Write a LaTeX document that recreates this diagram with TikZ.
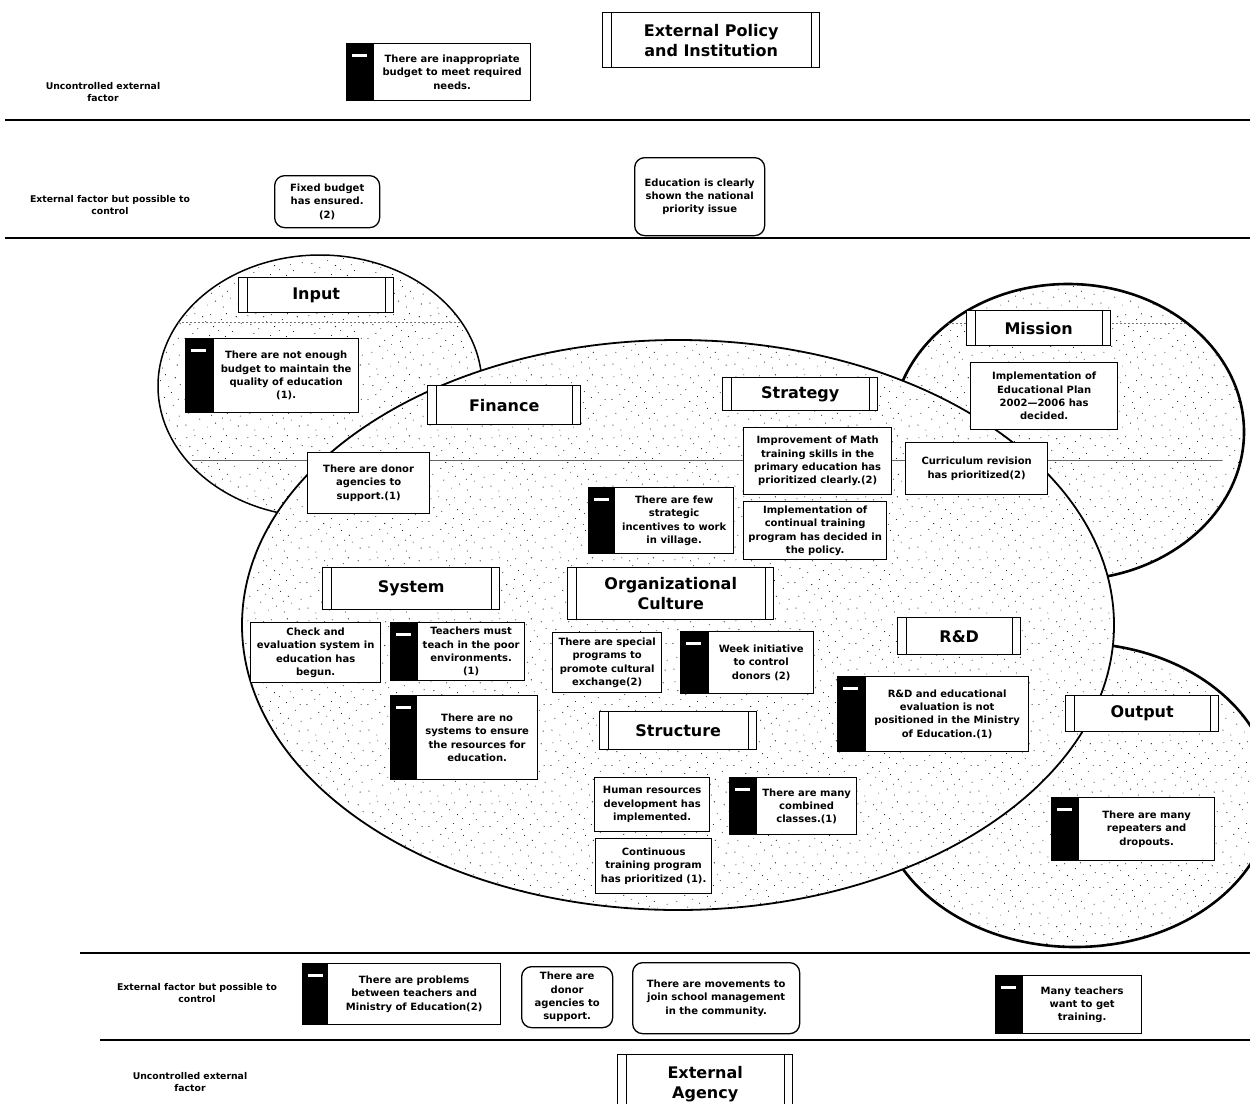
\documentclass[tikz,border=0pt]{standalone}
\usepackage{fontspec}
\newfontfamily\djv{DejaVu Sans}
\usetikzlibrary{patterns.meta}

\tikzdeclarepattern{
  name=speckle,
  type=uncolored,
  bounding box={(0pt,0pt) and (61pt,61pt)},
  tile size={(61pt,61pt)},
  code={
    \foreach \px/\py/\pr in {3/7/0.6,11/2/0.45,17/13/0.55,25/5/0.4,33/9/0.6,41/3/0.5,48/12/0.45,56/6/0.6,
      6/19/0.5,14/25/0.6,22/21/0.4,29/17/0.55,37/24/0.5,45/19/0.6,52/27/0.45,58/16/0.5,
      2/33/0.55,10/38/0.45,19/31/0.6,27/36/0.5,35/30/0.4,43/35/0.6,50/40/0.5,57/33/0.45,
      7/47/0.6,15/43/0.5,23/50/0.45,31/45/0.6,39/52/0.5,47/46/0.4,54/55/0.6,4/56/0.5,
      12/58/0.45,20/55/0.55,28/57/0.5,36/41/0.45,44/58/0.6,59/48/0.5,26/27/0.45,40/14/0.5}
      {\fill (\px pt,\py pt) circle[radius=\pr pt];}
  }
}

\tikzset{
  sepline/.style={line width=1.6pt},
  lbl/.style={font=\djv\bfseries\fontsize{9.3}{12}\selectfont, align=center},
  pbox/.style={draw, line width=1.3pt, fill=white, anchor=north west, align=center,
    inner sep=1pt, font=\djv\bfseries\fontsize{10}{13.3}\selectfont},
  rbox/.style={pbox, rounded corners=10pt},
  ibar/.style={draw, line width=1.3pt, fill=black, anchor=north west, inner sep=0pt,
    path picture={\fill[white] ([xshift=5pt,yshift=-10pt]path picture bounding box.north west) rectangle ++(15pt,-3.5pt);}},
  tbox/.style={draw, line width=1.4pt, fill=white, anchor=north west, align=center, inner sep=0pt,
    font=\djv\bfseries\fontsize{16}{20}\selectfont,
    path picture={
      \draw[line width=1pt] ([xshift=8.5pt]path picture bounding box.north west) -- ([xshift=8.5pt]path picture bounding box.south west);
      \draw[line width=1pt] ([xshift=-8.5pt]path picture bounding box.north east) -- ([xshift=-8.5pt]path picture bounding box.south east);}},
  blob/.style={pattern=speckle, pattern color=black, preaction={fill=white}},
  faint/.style={black!55, line width=0.7pt, dash pattern=on 2pt off 2pt},
}

% name, style, x1, y1, x2, y2, text
\newcommand\PBox[7]{\node[#2, minimum width={#5-#3}, minimum height={#6-#4}] (#1) at (#3,#4) {#7};}
% name, x1, y1, x2, y2, bar right x, text
\newcommand\IBox[7]{%
  \node[ibar, minimum width={#6-#2}, minimum height={#5-#3}] (#1bar) at (#2,#3) {};
  \node[pbox, minimum width={#4-#6}, minimum height={#5-#3}] (#1) at (#6,#3) {#7};}

\begin{document}
\begin{tikzpicture}[x=1pt,y=-1pt]
\useasboundingbox (0,0) rectangle (1250,1103);

% separator lines
\draw[sepline] (5,120) -- (1250,120);
\draw[sepline] (5,238) -- (1250,238);
\draw[sepline] (80,953) -- (1250,953);
\draw[sepline] (100,1040) -- (1250,1040);

% side labels
\node[lbl] (lab1) at (103,92) {Uncontrolled external\\factor};
\node[lbl] (lab2) at (110,205) {External factor but possible to\\control};
\node[lbl] (lab3) at (197,993) {External factor but possible to\\control};
\node[lbl] (lab4) at (190,1082) {Uncontrolled external\\factor};

% region ellipses
\draw[blob, line width=1.5pt] (320,386) ellipse [x radius=162pt, y radius=131pt];
\begin{scope}
  \clip (320,386) ellipse [x radius=162pt, y radius=131pt];
  \draw[faint] (150,322) -- (500,322);
\end{scope}
\draw[blob, line width=2.6pt] (1068,432) ellipse [x radius=176pt, y radius=148pt];
\begin{scope}
  \clip (1068,432) ellipse [x radius=176pt, y radius=148pt];
  \draw[faint] (880,323) -- (1250,323);
\end{scope}
\draw[blob, line width=2.6pt] (1075,795) ellipse [x radius=197pt, y radius=152pt];
\draw[blob, line width=1.8pt] (678,625) ellipse [x radius=436pt, y radius=285pt];
\draw[black!60, line width=0.8pt] (192,460) -- (1222,460);

% top band
\PBox{extpol}{tbox}{602}{12}{819}{67}{External Policy\\and Institution}
\IBox{inappr}{346}{43}{530}{100}{373}{There are inappropriate\\budget to meet required\\needs.}
\PBox{fixed}{rbox}{274}{175}{379}{227}{Fixed budget\\has ensured.\\(2)}
\PBox{edu}{rbox}{634}{157}{764}{235}{Education is clearly\\shown the national\\priority issue}

% input
\PBox{input}{tbox}{238}{277}{393}{312}{Input}
\IBox{notenough}{185}{338}{358}{412}{213}{There are not enough\\budget to maintain the\\quality of education\\(1).}
\PBox{finance}{tbox}{427}{385}{580}{424}{Finance}
\PBox{donor1}{pbox}{307}{452}{429}{513}{There are donor\\agencies to\\support.(1)}

% strategy
\PBox{strategy}{tbox}{722}{377}{877}{410}{Strategy}
\PBox{math}{pbox}{743}{427}{891}{494}{Improvement of Math\\training skills in the\\primary education has\\prioritized clearly.(2)}
\PBox{contin}{pbox}{743}{501}{886}{559}{Implementation of\\continual training\\program has decided in\\the policy.}
\IBox{few}{588}{487}{733}{553}{614}{There are few\\strategic\\incentives to work\\in village.}
\PBox{curric}{pbox}{905}{442}{1047}{494}{Curriculum revision\\has prioritized(2)}

% mission
\PBox{mission}{tbox}{966}{310}{1110}{345}{Mission}
\PBox{plan}{pbox}{970}{362}{1117}{429}{Implementation of\\Educational Plan\\2002—2006 has\\decided.}

% organizational culture
\PBox{orgcult}{tbox}{567}{567}{773}{619}{Organizational\\Culture}
\PBox{special}{pbox}{552}{632}{661}{692}{There are special\\programs to\\promote cultural\\exchange(2)}
\IBox{week}{680}{631}{813}{693}{708}{Week initiative\\to control\\donors (2)}

% R&D
\PBox{rnd}{tbox}{897}{617}{1020}{654}{R\&D}
\IBox{rndeval}{837}{676}{1028}{751}{865}{R\&D and educational\\evaluation is not\\positioned in the Ministry\\of Education.(1)}

% structure
\PBox{structure}{tbox}{599}{711}{756}{749}{Structure}
\PBox{human}{pbox}{594}{777}{709}{831}{Human resources\\development has\\implemented.}
\IBox{combined}{729}{777}{856}{834}{756}{There are many\\combined\\classes.(1)}
\PBox{training}{pbox}{595}{838}{711}{893}{Continuous\\training program\\has prioritized (1).}

% system
\PBox{system}{tbox}{322}{567}{499}{609}{System}
\PBox{check}{pbox}{250}{622}{380}{682}{Check and\\evaluation system in\\education has\\begun.}
\IBox{poor}{390}{622}{524}{680}{417}{Teachers must\\teach in the poor\\environments.\\(1)}
\IBox{nosys}{390}{695}{537}{779}{416}{There are no\\systems to ensure\\the resources for\\education.}

% output
\PBox{output}{tbox}{1065}{695}{1218}{731}{Output}
\IBox{repeat}{1051}{797}{1214}{860}{1078}{There are many\\repeaters and\\dropouts.}

% bottom band
\IBox{problems}{302}{963}{500}{1024}{327}{There are problems\\between teachers and\\Ministry of Education(2)}
\PBox{donor2}{rbox}{521}{966}{612}{1027}{There are\\donor\\agencies to\\support.}
\PBox{movement}{rbox}{632}{962}{799}{1033}{There are movements to\\join school management\\in the community.}
\IBox{wanttrain}{995}{975}{1141}{1033}{1022}{Many teachers\\want to get\\training.}
\PBox{extag}{tbox}{617}{1054}{792}{1112}{External\\Agency}
\end{tikzpicture}
\end{document}
